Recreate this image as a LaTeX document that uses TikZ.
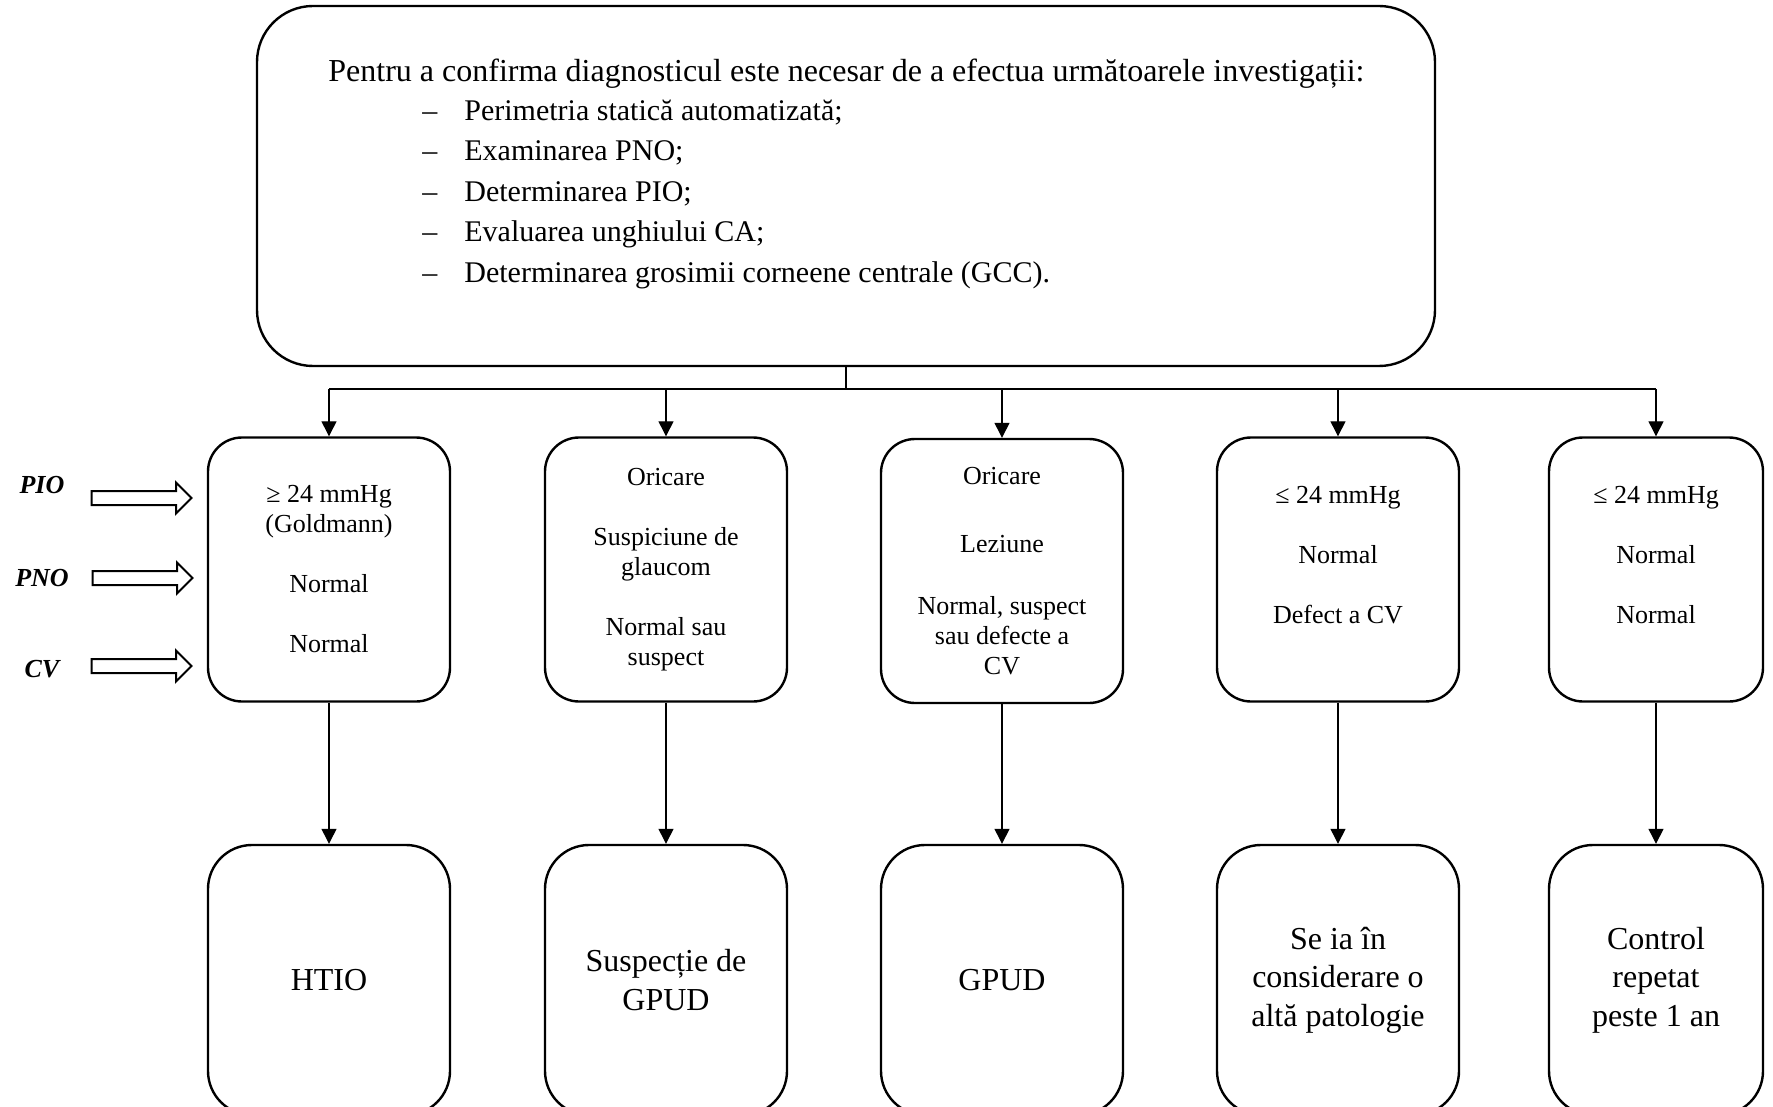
\documentclass[tikz,border=0pt]{standalone}
\usepackage{fontspec}
\setmainfont{Liberation Serif}
\usetikzlibrary{arrows.meta,shapes.arrows}

\tikzset{
    topbox/.style={draw, line width=1.2pt, rounded corners=28pt,
        minimum width=589pt, minimum height=180pt},
    midbox/.style={draw, line width=1.2pt, rounded corners=17pt, align=center,
        minimum width=121pt, minimum height=132pt, font=\fontsize{13}{15}\selectfont},
    resbox/.style={draw, line width=1.2pt, rounded corners=22pt, align=center,
        minimum width=121pt, minimum height=135pt, font=\fontsize{16}{19.3}\selectfont},
    link/.style={line width=0.65pt, -{Triangle[length=7.5pt,width=7.5pt]}},
    hollowarrow/.style={single arrow, draw, line width=1pt, inner sep=3pt,
        minimum height=50pt, single arrow head extend=4.25pt},
    sidelabel/.style={font=\fontsize{13}{15}\selectfont\bfseries\itshape}
}

\begin{document}
\begin{tikzpicture}[x=0.5pt, y=-0.5pt]

\clip (0,0) rectangle (1773,1107);

% caseta de sus
\node[topbox] (conf) at (846,186) {};
\node[anchor=north west, inner sep=0pt, align=left,
      font=\fontsize{15}{20.25}\selectfont] (conftxt) at (328,59) {%
    {\fontsize{16}{20.25}\selectfont Pentru a confirma diagnosticul este necesar de a efectua următoarele investigații:}\\[-1pt]
    \hspace*{47pt}\makebox[21pt][l]{–}Perimetria statică automatizată;\\
    \hspace*{47pt}\makebox[21pt][l]{–}Examinarea PNO;\\
    \hspace*{47pt}\makebox[21pt][l]{–}Determinarea PIO;\\
    \hspace*{47pt}\makebox[21pt][l]{–}Evaluarea unghiului CA;\\
    \hspace*{47pt}\makebox[21pt][l]{–}Determinarea grosimii corneene centrale (GCC).};

% criterii
\node[midbox] (m1) at (329,569.5) {≥ 24 mmHg\\(Goldmann)\\[15pt]Normal\\[15pt]Normal};
\node[midbox] (m2) at (666,569.5) {Oricare\\[15pt]Suspiciune de\\glaucom\\[15pt]Normal sau\\suspect};
\node[midbox] (m3) at (1002,571) {Oricare\\[19pt]Leziune\\[16pt]Normal, suspect\\sau defecte a\\CV};
\node[midbox] (m4) at (1338,569.5) {≤ 24 mmHg\\[15pt]Normal\\[15pt]Defect a CV\\[0pt]\mbox{}};
\node[midbox, minimum width=107pt] (m5) at (1656,569.5) {≤ 24 mmHg\\[15pt]Normal\\[15pt]Normal\\[0pt]\mbox{}};

% concluzii
\node[resbox] (b1) at (329,980) {HTIO};
\node[resbox] (b2) at (666,980) {Suspecție de\\GPUD};
\node[resbox] (b3) at (1002,980) {GPUD};
\node[resbox] (b4) at (1338,980) {Se ia în\\considerare o\\altă patologie};
\node[resbox, minimum width=107pt] (b5) at (1656,980) {Control\\repetat\\peste 1 an};

% legaturi
\coordinate (br1) at (329,389);
\coordinate (br5) at (1656,389);
\draw[link, -] (conf.south) -- (conf.south |- br1);
\draw[link, -] (br1) -- (br5);
\foreach \i in {1,...,5}{
    \draw[link] (m\i.north |- br1) -- (m\i.north);
    \draw[link] (m\i.south) -- (b\i.north);
}

% parametrii din stanga
\node[sidelabel] (pio) at (42,485) {PIO};
\node[sidelabel] (pno) at (42,578) {PNO};
\node[sidelabel] (cv) at (42,669) {CV};
\node[hollowarrow] (apio) at (138,498) {};
\node[hollowarrow] (apno) at (139,578) {};
\node[hollowarrow] (acv) at (138,666) {};

\end{tikzpicture}
\end{document}
